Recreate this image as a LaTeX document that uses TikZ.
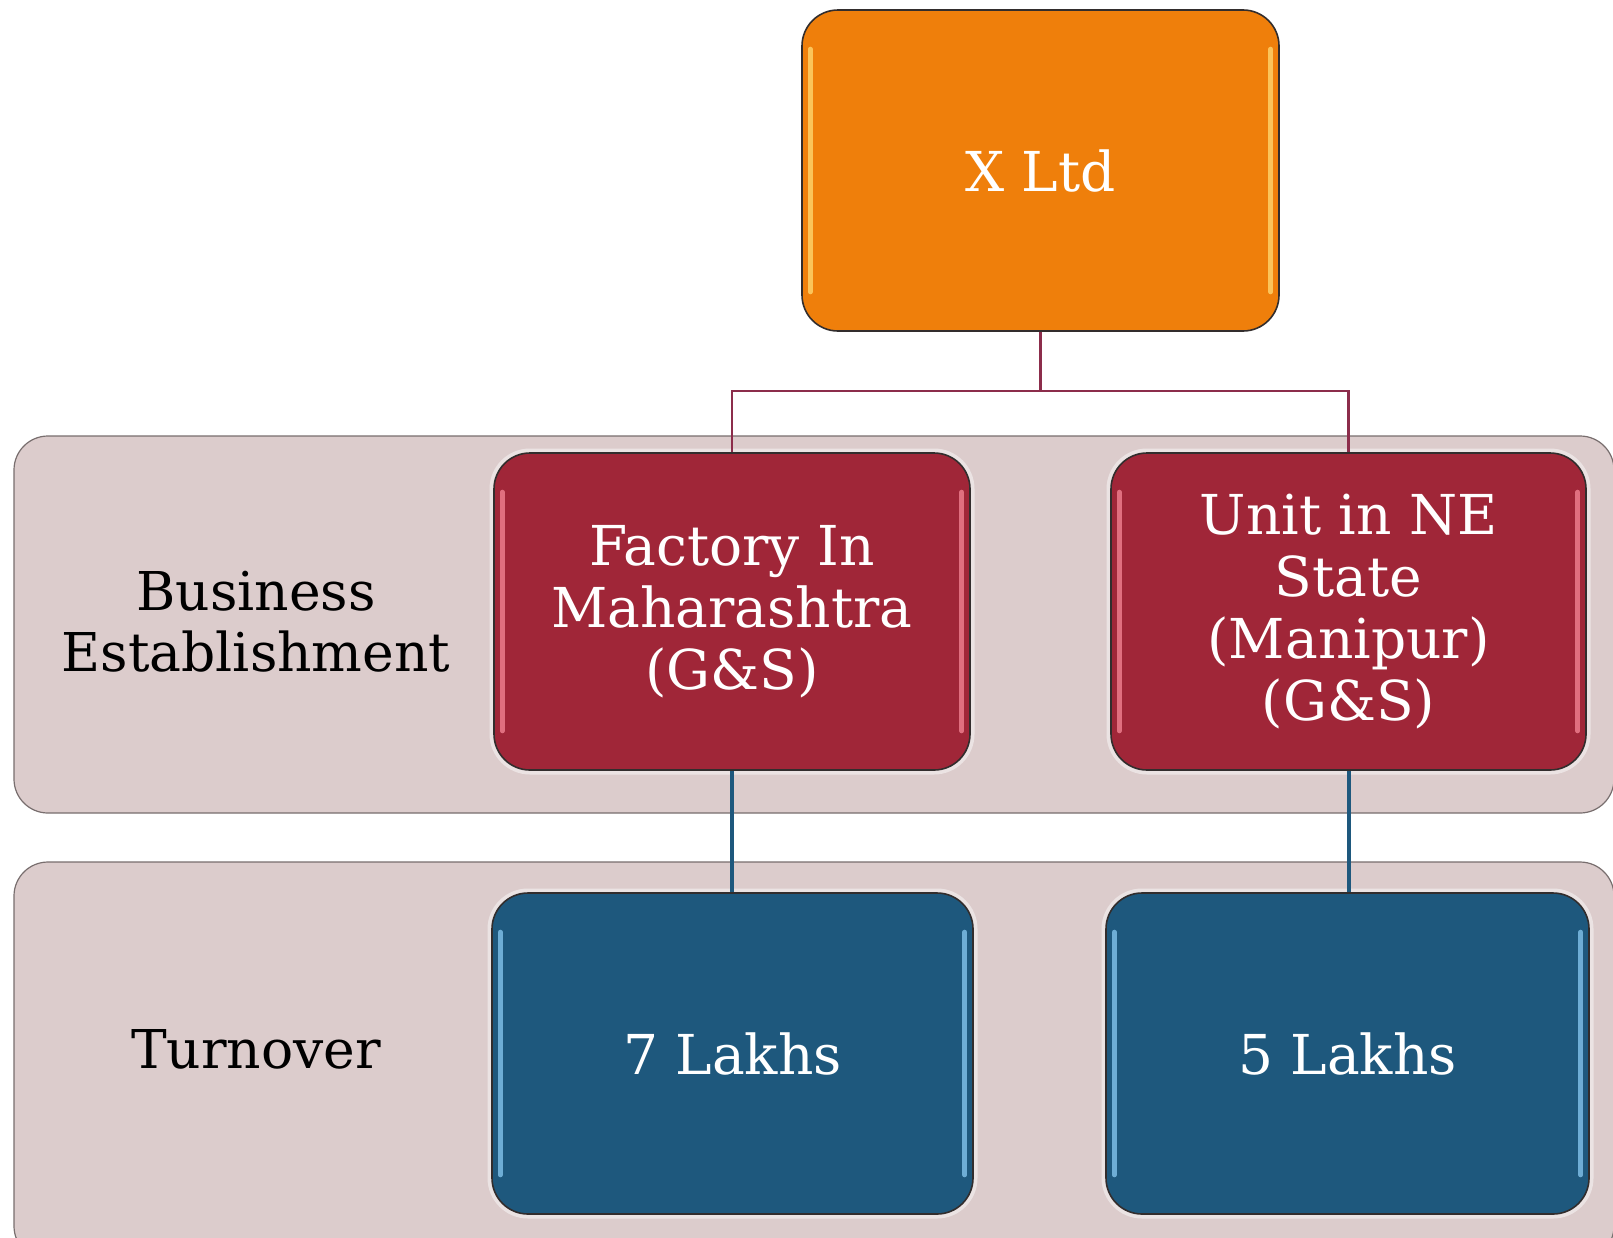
\documentclass[tikz,border=0pt]{standalone}
\usepackage{fontspec}
\setmainfont{DejaVu Serif}
\usetikzlibrary{calc}

\definecolor{bandfill}{RGB}{220,204,204}
\definecolor{bandline}{RGB}{120,110,110}
\definecolor{orangefill}{RGB}{239,127,11}
\definecolor{orangegloss}{RGB}{255,214,110}
\definecolor{redfill}{RGB}{160,38,56}
\definecolor{redgloss}{RGB}{240,130,145}
\definecolor{bluefill}{RGB}{30,88,125}
\definecolor{bluegloss}{RGB}{130,195,235}
\definecolor{treeline}{RGB}{140,45,75}
\definecolor{boxline}{RGB}{50,45,45}

\tikzset{
  band/.style={draw=bandline, line width=1.2pt, fill=bandfill, rounded corners=34pt},
  tile/.style={draw=boxline, line width=1.6pt, rounded corners=36pt,
    text=white, align=center, inner sep=0pt,
    font=\fontsize{55}{62}\selectfont,
    preaction={draw=white, draw opacity=0.45, line width=9pt}},
  toptile/.style={tile, fill=orangefill, preaction={}},
  redtile/.style={tile, fill=redfill},
  bluetile/.style={tile, fill=bluefill},
  rowlabel/.style={align=center, text=black, font=\fontsize{53.5}{61}\selectfont},
  glossline/.style={line width=5pt, line cap=round, opacity=0.8},
  treelink/.style={draw=treeline, line width=2.2pt},
  bluelink/.style={draw=bluefill, line width=4pt},
}

% glossy strips just inside the left and right edges of a tile
\newcommand\tilegloss[2]{%
  \draw[glossline, draw=#2] ($(#1.north west)+(9,40)$) -- ($(#1.south west)+(9,-40)$);
  \draw[glossline, draw=#2] ($(#1.north east)+(-9,40)$) -- ($(#1.south east)+(-9,-40)$);
}

\begin{document}
\begin{tikzpicture}[x=1pt, y=-1pt]
  \useasboundingbox (0,0) rectangle (1613,1237);
  \clip (0,0) rectangle (1613,1237);
  \fill[white] (0,0) rectangle (1613,1237);

  % row bands
  \node[band, minimum width=1600pt, minimum height=377pt] (bandBE) at (814,624.5) {};
  \node[band, minimum width=1600pt, minimum height=398pt] (bandTO) at (814,1061) {};

  % row labels
  \node[rowlabel] (lblBE) at (256,622) {Business\\Establishment};
  \node[rowlabel] (lblTO) at (256,1049) {Turnover};

  % tiles
  \node[toptile, minimum width=477pt, minimum height=321pt] (xltd) at (1040.5,170.5) {X Ltd};
  \node[redtile, minimum width=476pt, minimum height=317pt] (fac) at (732,611.5)
    {Factory In\\Maharashtra\\(G\&S)};
  \node[redtile, minimum width=475pt, minimum height=317pt] (unit) at (1348.5,611.5)
    {Unit in NE\\State\\(Manipur)\\(G\&S)};
  \node[bluetile, minimum width=481pt, minimum height=321pt] (sevenl) at (732.5,1053.5) {7 Lakhs};
  \node[bluetile, minimum width=483pt, minimum height=321pt] (fivel) at (1347.5,1053.5) {5 Lakhs};

  \tilegloss{xltd}{orangegloss}
  \tilegloss{fac}{redgloss}
  \tilegloss{unit}{redgloss}
  \tilegloss{sevenl}{bluegloss}
  \tilegloss{fivel}{bluegloss}

  % tree connectors
  \coordinate (split) at (1040.5,391);
  \draw[treelink] (xltd.south) -- (split) -| (fac.north);
  \draw[treelink] (split) -| (unit.north);
  \draw[bluelink] (fac.south) -- (fac.south |- sevenl.north);
  \draw[bluelink] (unit.south) -- (unit.south |- fivel.north);
\end{tikzpicture}
\end{document}
